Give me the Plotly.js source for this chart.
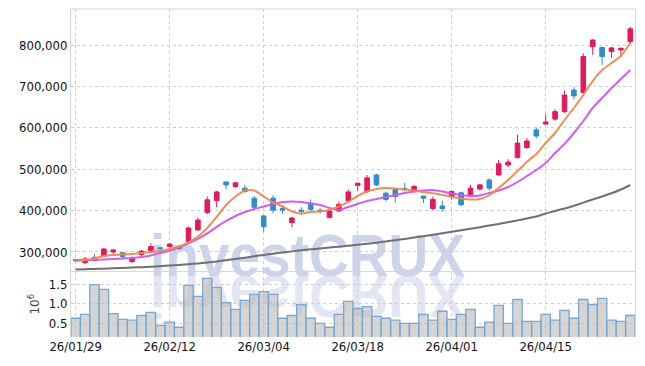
<!DOCTYPE html>
<html>
<head>
<meta charset="utf-8">
<script src="https://cdn.plot.ly/plotly-3.0.1.min.js"></script>
<style>html,body{margin:0;padding:0;background:#fff;}#chart{width:645px;height:366px;}</style>
</head>
<body>
<div id="chart"></div>
<script>
// Trading dates (yy/mm/dd)
const dates = ["26/01/29","26/01/30","26/02/02","26/02/03","26/02/04","26/02/05","26/02/06","26/02/09","26/02/10","26/02/11",
"26/02/12","26/02/13","26/02/19","26/02/20","26/02/23","26/02/24","26/02/25","26/02/26","26/02/27","26/03/03",
"26/03/04","26/03/05","26/03/06","26/03/09","26/03/10","26/03/11","26/03/12","26/03/13","26/03/16","26/03/17",
"26/03/18","26/03/19","26/03/20","26/03/23","26/03/24","26/03/25","26/03/26","26/03/27","26/03/30","26/03/31",
"26/04/01","26/04/02","26/04/03","26/04/06","26/04/07","26/04/08","26/04/09","26/04/10","26/04/13","26/04/14",
"26/04/15","26/04/16","26/04/17","26/04/20","26/04/21","26/04/22","26/04/23","26/04/24","26/04/27","26/04/28"];
const tickDates = ["26/01/29","26/02/12","26/03/04","26/03/18","26/04/01","26/04/15"];

// Prices in thousands of won
const openK  = [281,274,287,291,300,298,277,294,303,310, 313,314,325,353,395,424,469,458,454,430,
                387,430,405,371,401,418,401,383,399,424, 461,446,486,442,451,453,446,435,405,411,
                434,443,438,452,474,486,510,528,552,595, 609,621,639,691,685,796,794,784,788,808];
const highK  = [283,288,295,310,306,300,289,304,321,312, 322,317,361,383,434,448,470,469,462,435,
                389,437,413,385,408,427,406,403,421,451, 467,486,488,446,454,467,462,435,434,424,
                448,446,462,464,478,522,524,583,575,601, 633,645,690,698,780,814,796,795,794,844];
const lowK   = [277,270,278,289,295,286,273,290,301,302, 311,305,322,351,392,408,451,455,443,400,
                349,393,393,360,389,397,393,381,397,420, 448,443,459,422,419,446,443,418,401,397,
                426,410,434,448,448,484,505,526,549,575, 608,617,636,669,683,776,752,769,770,804];
const closeK = [279,283,279,307,305,289,285,302,313,308, 319,308,358,377,426,445,462,467,446,408,
                361,401,401,382,398,403,398,399,415,445, 466,479,462,427,434,451,458,430,427,405,
                446,414,454,462,454,513,517,563,568,580, 614,639,679,677,772,812,772,793,792,839];

// Moving averages (thousands)
const ma5K  = [278.3,280.7,284.3,290.3,292.8,294.0,295.2,297.6,300.0,302.4, 307.2,313.3,322.9,337.4,358.0,384.5,413.5,434.0,448.5,448.5,
               434.0,419.5,409.9,397.8,393.0,396.6,397.8,401.4,409.9,420.8, 435.2,446.1,452.1,454.6,453.4,450.9,448.5,444.9,441.7,437.7,
               433.5,429.2,426.8,428.0,437.0,454.6,473.9,495.6,517.4,536.7, 563.2,587.4,618.8,647.8,679.2,713.0,739.5,756.4,773.3,804.7];
const ma20K = [280.7,280.7,280.7,281.9,283.1,284.3,285.5,287.9,291.5,297.6, 303.6,310.9,320.5,331.4,344.7,360.4,374.9,386.9,396.6,403.8,
               409.9,415.9,420.8,422.0,420.8,417.1,413.5,406.3,401.4,408.7, 415.9,423.2,428.0,432.8,437.7,442.5,446.1,448.5,449.7,446.1,
               441.3,437.7,435.2,436.4,442.5,448.5,457.0,469.0,483.5,498.0, 514.9,539.1,560.8,587.4,616.4,647.8,671.9,696.1,717.8,739.5];
const ma120K = [257.7,258.2,258.9,259.7,260.6,261.4,262.3,263.3,264.5,265.7, 267.2,268.6,270.3,272.2,274.6,277.1,280.2,283.1,286.2,289.6,
                292.8,295.9,298.8,301.4,303.9,306.3,308.5,310.6,312.8,315.0, 317.4,319.8,322.5,325.4,328.3,331.4,334.8,338.2,341.5,345.2,
                348.8,352.4,356.0,359.9,363.8,367.6,372.0,376.3,380.9,385.7, 393.0,399.0,405.0,411.8,419.1,426.8,434.0,441.8,450.9,461.8];

// Volume in millions
const volumeM = [0.63,0.73,1.49,1.37,0.75,0.60,0.58,0.70,0.78,0.45, 0.53,0.40,1.47,1.19,1.65,1.42,1.03,0.86,1.09,1.24,
                 1.31,1.24,0.63,0.70,0.98,0.63,0.50,0.40,0.73,1.06, 0.88,0.93,0.68,0.63,0.58,0.50,0.50,0.73,0.58,0.81,
                 0.60,0.73,0.86,0.40,0.53,0.96,0.50,1.11,0.55,0.55, 0.73,0.58,0.83,0.63,1.11,0.98,1.14,0.58,0.55,0.70];

const yPriceTicks = [300000,400000,500000,600000,700000,800000];
const yVolTicks = [0.5,1.0,1.5];

const k = a => a.map(v => v * 1000);

const UP = '#E2195E', DOWN = '#2B8FCA';
const gridC = '#c9cbe0';
const tickFont = {family: 'DejaVu Sans Condensed, DejaVu Sans', size: 13, color: '#111'};

const traces = [
  {type:'bar', x:dates, y:volumeM, xaxis:'x', yaxis:'y2',
   marker:{color:'rgba(185,185,185,0.6)', line:{color:'#79a7cf', width:1.3}}, hoverinfo:'skip'},
  {type:'candlestick', x:dates, open:k(openK), high:k(highK), low:k(lowK), close:k(closeK),
   xaxis:'x', yaxis:'y',
   increasing:{line:{color:UP, width:1}, fillcolor:UP},
   decreasing:{line:{color:DOWN, width:1}, fillcolor:DOWN},
   whiskerwidth:0, hoverinfo:'skip'},
  {type:'scatter', mode:'lines', x:dates, y:k(ma120K), xaxis:'x', yaxis:'y',
   line:{color:'#707070', width:2, shape:'spline', smoothing:0.6}, hoverinfo:'skip'},
  {type:'scatter', mode:'lines', x:dates, y:k(ma20K), xaxis:'x', yaxis:'y',
   line:{color:'#CF55EE', width:2, shape:'spline', smoothing:0.6}, opacity:0.95, hoverinfo:'skip'},
  {type:'scatter', mode:'lines', x:dates, y:k(ma5K), xaxis:'x', yaxis:'y',
   line:{color:'#F2874D', width:2, shape:'spline', smoothing:0.6}, opacity:0.95, hoverinfo:'skip'}
];

const svg = '<svg xmlns="http://www.w3.org/2000/svg" width="330" height="100" viewBox="0 0 330 100">' +
  '<text x="5" y="54" font-family="Liberation Sans, Arial, sans-serif" font-weight="bold" font-size="60" fill="#cdd3e8" textLength="315" lengthAdjust="spacingAndGlyphs">investCRUX</text>' +
  '<g transform="translate(0,108) scale(1,-1)" opacity="0.55"><text x="5" y="54" font-family="Liberation Sans, Arial, sans-serif" font-weight="bold" font-size="60" fill="#cdd3e8" textLength="315" lengthAdjust="spacingAndGlyphs">investCRUX</text></g>' +
  '</svg>';

const layout = {
  width:645, height:366,
  margin:{l:71, r:10, t:9, b:29},
  paper_bgcolor:'#fff', plot_bgcolor:'rgba(0,0,0,0)',
  showlegend:false, bargap:0,
  xaxis:{type:'category', range:[-0.5,59.5], anchor:'y2',
         tickmode:'array', tickvals:tickDates, ticktext:tickDates,
         showgrid:true, gridcolor:gridC, griddash:'dot', gridwidth:1,
         showline:false,
         ticks:'', tickfont:tickFont, rangeslider:{visible:false}, fixedrange:true},
  yaxis:{domain:[0.2,1], range:[253000,887000],
         tickmode:'array', tickvals:yPriceTicks, tickformat:',d',
         showgrid:true, gridcolor:gridC, griddash:'dot', gridwidth:1, zeroline:false,
         showline:true, linecolor:'#d6d6d6', linewidth:1, mirror:true,
         ticks:'', tickfont:tickFont},
  yaxis2:{domain:[0,0.2], range:[0.15,1.83],
          tickmode:'array', tickvals:yVolTicks, tickformat:'.1f',
          showgrid:true, gridcolor:gridC, griddash:'dot', gridwidth:1, zeroline:false,
          showline:true, linecolor:'#d6d6d6', linewidth:1, mirror:true,
          ticks:'', tickfont:tickFont,
          title:{text:'10<sup>6</sup>', font:{family:'DejaVu Sans', size:12, color:'#444'}, standoff:6}},
  shapes:[
    {type:'line', xref:'paper', yref:'paper', x0:0, x1:1, y0:1, y1:1, line:{color:'#d6d6d6', width:1}},
    {type:'line', xref:'paper', yref:'paper', x0:0, x1:1, y0:0.2, y1:0.2, line:{color:'#d4d4d4', width:1}}
  ],
  images:[{source:'data:image/svg+xml;charset=utf-8,' + encodeURIComponent(svg),
           xref:'paper', yref:'paper', x:(145-71)/564, y:(337-222)/328,
           sizex:330/564, sizey:100/328, sizing:'stretch', xanchor:'left', yanchor:'top', layer:'below'}]
};

Plotly.newPlot('chart', traces, layout, {staticPlot:true, displayModeBar:false});
</script>
</body>
</html>
